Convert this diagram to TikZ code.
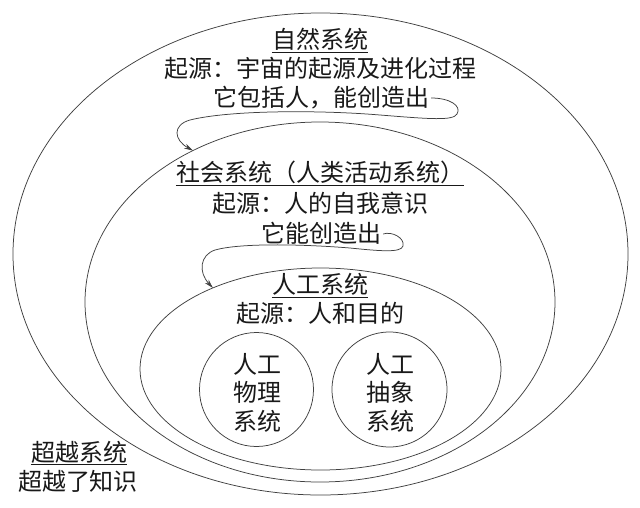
\documentclass[tikz,border=0pt]{standalone}
\usepackage{fontspec}
\newfontfamily\cjk{Noto Sans CJK SC}
\usetikzlibrary{shapes.geometric,arrows.meta,calc}
\begin{document}
\begin{tikzpicture}[x=1pt,y=-1pt,
  lbl/.style={font=\cjk\fontsize{24}{28}\selectfont, text=black!90, inner sep=0pt,
              text height=19pt, text depth=2.4pt, anchor=center},
  ring/.style={draw=black!75, line width=0.75pt, ellipse, inner sep=0pt, outer sep=0pt},
  disc/.style={draw=black!75, line width=0.75pt, circle, inner sep=0pt, outer sep=0pt},
  conn/.style={draw=black!75, line width=0.75pt, -{Stealth[length=9pt,width=5pt]}},
  uline/.style={draw=black!90, line width=0.9pt}]
\useasboundingbox (0,0) rectangle (640,507);
\fill[white] (0,0) rectangle (640,507);

% nested systems
\node[ring, minimum width=615pt, minimum height=482pt] (e1) at (320.5,254) {};
\node[ring, minimum width=470pt, minimum height=360pt] (e2) at (320,302) {};
\node[ring, minimum width=361pt, minimum height=202pt] (e3) at (320.5,369) {};
\node[disc, minimum size=114pt] (c1) at (256.5,389.5) {};
\node[disc, minimum size=115pt] (c2) at (389.5,389.5) {};

% natural system
\node[lbl] (t1) at (320,40) {自然系统};
\node[lbl] (t2) at (320,69) {起源：宇宙的起源及进化过程};
\node[lbl] (t3) at (321,98) {它包括人，能创造出};
% social system
\node[lbl] (t4) at (320,173) {社会系统（人类活动系统）};
\node[lbl] (t5) at (320,204) {起源：人的自我意识};
\node[lbl] (t6) at (321,234) {它能创造出};
% artificial system
\node[lbl] (t7) at (320,285) {人工系统};
\node[lbl] (t8) at (320,314) {起源：人和目的};
% inner circles
\node[lbl] (p1) at (257,365) {人工};
\node[lbl] (p2) at (257,393) {物理};
\node[lbl] (p3) at (257,422) {系统};
\node[lbl] (q1) at (390,365) {人工};
\node[lbl] (q2) at (390,393) {抽象};
\node[lbl] (q3) at (390,422) {系统};
% transcendent system
\node[lbl] (t9) at (79,453) {超越系统};
\node[lbl] (t10) at (78,482) {超越了知识};

% underlines
\draw[uline] ($(t1.west)+(0,12)$) -- ($(t1.east)+(0,12)$);
\draw[uline] ($(t4.west)+(0,12)$) -- ($(t4.east)+(0,12)$);
\draw[uline] ($(t7.west)+(0,12)$) -- ($(t7.east)+(0,12)$);
\draw[uline] ($(t9.west)+(0,11)$) -- ($(t9.east)+(0,11)$);

% curly arrows
\draw[conn] ([xshift=2pt]t3.east) .. controls (450,98) and (462,106) .. (457,114)
  .. controls (453,121) and (430,119) .. (380,115)
  .. controls (320,110) and (230,110) .. (190,120)
  .. controls (172,125) and (174,140) .. (e2.130);
\draw[conn] ([xshift=2pt]t6.east) .. controls (392,231) and (405,238) .. (403,246)
  .. controls (401,253) and (380,251) .. (350,248)
  .. controls (300,244) and (240,243) .. (215,250)
  .. controls (200,255) and (198,272) .. (e3.143);
\end{tikzpicture}
\end{document}
